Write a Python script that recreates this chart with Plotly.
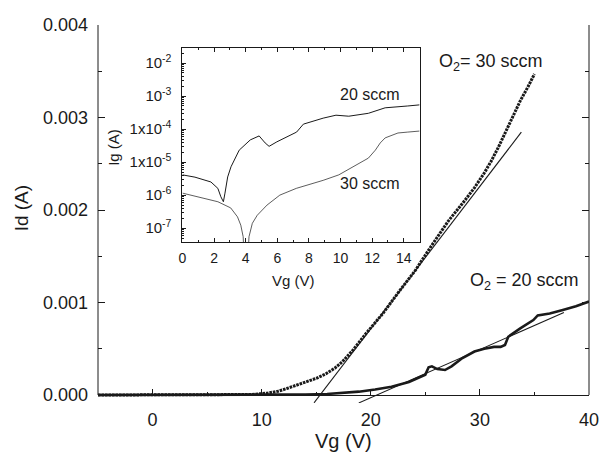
import plotly.graph_objects as go

# ---------------- Main panel: Id vs Vg ----------------
vg_30 = [-5, 0, 5, 9, 10.5, 11.5, 12.3, 13.2, 14.1, 15.0, 15.9, 16.7, 17.4, 18.4, 19.6,
         21.1, 22.6, 24.1, 25.6, 27.1, 28.6, 29.5, 30.4, 31.0, 31.7, 32.4, 33.1, 33.7, 34.4, 35.0]
id_30 = [0, 0, 0, 0.000005, 0.00002, 0.00004, 0.00007, 0.000105, 0.00014, 0.00018, 0.00023,
         0.00029, 0.00036, 0.00049, 0.00067, 0.00088, 0.00112, 0.00135, 0.00162, 0.00188,
         0.0021, 0.00224, 0.0024, 0.00252, 0.00268, 0.00285, 0.00302, 0.00318, 0.00333, 0.00347]

vg_20 = [-5, 0, 5, 10, 14, 16, 17.5, 18.9, 20.4, 21.9, 23.5, 25.0, 25.3, 25.6, 26.1, 26.8,
         27.4, 28.4, 29.5, 30.4, 31.3, 31.9, 32.3, 32.6, 33.7, 34.9, 35.3, 36.4, 37.6, 38.8, 40.0]
id_20 = [0, 0, 0, 0, 0.000005, 0.00001, 0.00002, 0.000036, 0.00006, 0.00009, 0.00014, 0.00022,
         0.0003, 0.00031, 0.00028, 0.00027, 0.00031, 0.0004, 0.00047, 0.0005, 0.00052, 0.00052,
         0.00054, 0.00063, 0.00072, 0.00081, 0.00086, 0.00088, 0.00092, 0.00096, 0.00101]

# linear fits (slope A/V, threshold voltage V, drawn extent V)
fit_slope = [1.54e-4, 5.2e-5]
fit_vth = [15.35, 20.55]
fit_start = [14.8, 18.9]
fit_end = [33.8, 37.7]

main_yticks = [0.000, 0.001, 0.002, 0.003, 0.004]
main_xticks = [0, 10, 20, 30, 40]

# ---------------- Inset: Ig vs Vg ----------------
ivg_20 = [0, 0.79, 1.80, 2.24, 2.43, 2.59, 2.69, 2.86, 3.07, 3.28, 3.59, 4.29, 4.85, 5.23,
          5.48, 5.97, 6.60, 7.22, 7.65, 8.28, 8.90, 9.71, 10.52, 11.76, 12.82, 14.25, 15.0]
ig_20 = [4.1e-6, 3.5e-6, 2.5e-6, 1.6e-6, 8.9e-7, 6.3e-7, 1.15e-6, 3.55e-6, 7.2e-6, 1.15e-5,
         2.3e-5, 4.7e-5, 6.2e-5, 3.8e-5, 3.0e-5, 4.1e-5, 5.8e-5, 8.1e-5, 1.41e-4, 1.74e-4,
         2.14e-4, 2.63e-4, 2.45e-4, 3.0e-4, 4.4e-4, 5.0e-4, 5.4e-4]

ivg_30 = [0, 1.0, 2.24, 3.05, 3.48, 3.69, 3.84, 4.01, 4.21, 4.42, 4.73, 5.35, 6.16, 7.2,
          8.9, 9.89, 10.77, 11.76, 12.20, 12.51, 12.82, 13.63, 14.25, 15.0]
ig_30 = [1.15e-6, 8.9e-7, 6.3e-7, 4.1e-7, 2.2e-7, 1.23e-7, 5.5e-8, 1e-9, 5.5e-8, 1.4e-7,
         2.45e-7, 5.0e-7, 1.0e-6, 1.6e-6, 2.8e-6, 4.1e-6, 7.1e-6, 1.32e-5, 2.3e-5, 3.8e-5,
         5.4e-5, 7.6e-5, 8.1e-5, 8.7e-5]

inset_yticks = [1e-2, 1e-3, 1e-4, 1e-5, 1e-6, 1e-7]
inset_yticktext = ["10<sup>-2</sup>", "10<sup>-3</sup>", "1x10<sup>-4</sup>",
                   "1x10<sup>-5</sup>", "10<sup>-6</sup>", "10<sup>-7</sup>"]

FONT = "Liberation Sans, Arial, Helvetica, sans-serif"
INK = "#1a1a1a"

Y_LO = -0.0000865   # small margin below zero so the fit lines can cross the axis
Y_HI = 0.004
ZERO_POS = (0 - Y_LO) / (Y_HI - Y_LO)

fig = go.Figure()

# main curves
fig.add_trace(go.Scatter(x=vg_20, y=id_20, mode="lines",
                         line=dict(color=INK, width=2.6), xaxis="x", yaxis="y"))
fig.add_trace(go.Scatter(x=vg_30, y=id_30, mode="lines",
                         line=dict(color=INK, width=3, dash="2.6px,0.9px"),
                         xaxis="x", yaxis="y"))

# fitted lines
for s, v, a, b in zip(fit_slope, fit_vth, fit_start, fit_end):
    fig.add_trace(go.Scatter(x=[a, b], y=[s * (a - v), s * (b - v)], mode="lines",
                             line=dict(color=INK, width=1.1), xaxis="x", yaxis="y"))

# inset curves
fig.add_trace(go.Scatter(x=ivg_20, y=ig_20, mode="lines",
                         line=dict(color=INK, width=1), xaxis="x2", yaxis="y2"))
fig.add_trace(go.Scatter(x=ivg_30, y=ig_30, mode="lines",
                         line=dict(color="#333333", width=0.8), xaxis="x2", yaxis="y2"))

fig.update_layout(
    width=611, height=454,
    margin=dict(l=98, r=14, t=25, b=51),
    paper_bgcolor="white", plot_bgcolor="white",
    showlegend=False,
    font=dict(family=FONT, color=INK),
    xaxis=dict(showgrid=False, zeroline=False, showline=True, linecolor=INK, linewidth=1,
               ticks="inside", tickcolor=INK, tickwidth=1, mirror="ticks",
               anchor="free", position=ZERO_POS,
               domain=[0, 1], range=[-5, 40], tickmode="array",
               tickvals=main_xticks, ticklen=6, ticklabelstandoff=8,
               tickfont=dict(family=FONT, size=18, color=INK),
               minor=dict(dtick=5, tick0=0, ticks="inside", ticklen=3,
                          tickcolor=INK, tickwidth=1)),
    yaxis=dict(showgrid=False, zeroline=False, showline=False,
               ticks="inside", tickcolor=INK, tickwidth=1, mirror="ticks",
               domain=[0, 1], range=[Y_LO, Y_HI], tickmode="array",
               tickvals=main_yticks, tickformat=".3f", ticklen=7, ticklabelstandoff=9,
               tickfont=dict(family=FONT, size=18, color=INK),
               minor=dict(dtick=0.0005, tick0=0, ticks="inside", ticklen=4,
                          tickcolor=INK, tickwidth=1)),
    xaxis2=dict(showgrid=False, zeroline=False, showline=True, linecolor=INK, linewidth=1,
                ticks="inside", tickcolor=INK, tickwidth=1, mirror="ticks", anchor="y2",
                domain=[0.172, 0.655], range=[0, 15], dtick=2, tick0=0, ticklen=4,
                tickfont=dict(family=FONT, size=14, color=INK), ticklabelstandoff=3,
                minor=dict(dtick=1, tick0=0, ticks="inside", ticklen=2,
                           tickcolor=INK, tickwidth=1)),
    yaxis2=dict(showgrid=False, zeroline=False, showline=True, linecolor=INK, linewidth=1,
                ticks="inside", tickcolor=INK, tickwidth=1, mirror=True, anchor="x2",
                type="log", domain=[0.4259, 0.9392], range=[-7.42, -1.545],
                tickmode="array", tickvals=inset_yticks, ticktext=inset_yticktext,
                ticklen=4, tickfont=dict(family=FONT, size=15, color=INK),
                ticklabelstandoff=7,
                minor=dict(dtick="D1", ticks="inside", ticklen=2,
                           tickcolor=INK, tickwidth=1)),
)

# left / right frame lines of the main panel (from zero up to the top)
fig.add_shape(type="line", xref="paper", yref="y", x0=0, x1=0, y0=0, y1=Y_HI,
              line=dict(color=INK, width=1))
fig.add_shape(type="line", xref="paper", yref="y", x0=1, x1=1, y0=0, y1=Y_HI,
              line=dict(color=INK, width=1))

ann = []
ann.append(dict(text="Vg (V)", xref="paper", yref="paper", x=0.5, y=-0.1005,
                xanchor="center", yanchor="middle", showarrow=False,
                font=dict(family=FONT, size=20, color=INK)))
ann.append(dict(text="Id (A)", xref="paper", yref="paper", x=-0.154, y=0.516,
                xanchor="center", yanchor="middle", showarrow=False, textangle=-90,
                font=dict(family=FONT, size=19, color=INK)))
ann.append(dict(text="Ig (A)", xref="paper", yref="paper", x=0.030, y=0.677,
                xanchor="center", yanchor="middle", showarrow=False, textangle=-90,
                font=dict(family=FONT, size=15, color=INK)))
ann.append(dict(text="Vg (V)", xref="paper", yref="paper", x=0.399, y=0.325,
                xanchor="center", yanchor="middle", showarrow=False,
                font=dict(family=FONT, size=15, color=INK)))
ann.append(dict(text="20 sccm", xref="x2", yref="y2", x=11.85, y=-2.94,
                xanchor="center", yanchor="middle", showarrow=False,
                font=dict(family=FONT, size=16, color=INK)))
ann.append(dict(text="30 sccm", xref="x2", yref="y2", x=11.85, y=-5.64,
                xanchor="center", yanchor="middle", showarrow=False,
                font=dict(family=FONT, size=16, color=INK)))
ann.append(dict(text="O<sub>2</sub>= 30 sccm", xref="x", yref="y", x=31.0, y=0.00359,
                xanchor="center", yanchor="middle", showarrow=False,
                font=dict(family=FONT, size=18, color=INK)))
ann.append(dict(text="O<sub>2</sub> = 20 sccm", xref="x", yref="y", x=34.05, y=0.00123,
                xanchor="center", yanchor="middle", showarrow=False,
                font=dict(family=FONT, size=18, color=INK)))
fig.update_layout(annotations=ann)

fig.write_html("out.html")
